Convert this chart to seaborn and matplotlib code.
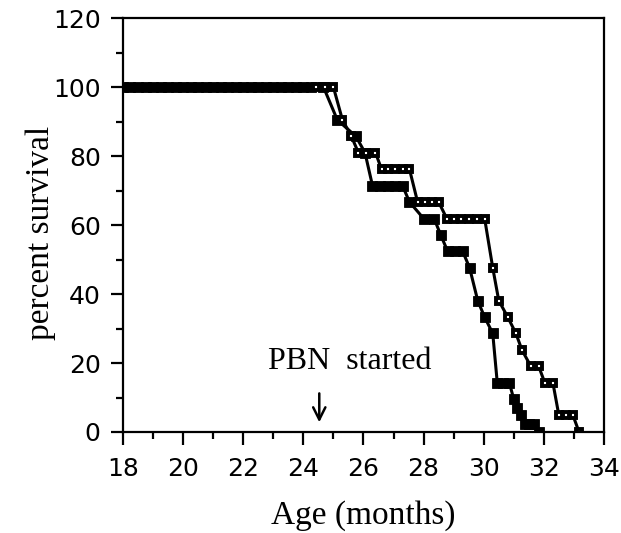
import matplotlib
matplotlib.use("Agg")
import matplotlib.pyplot as plt
import seaborn as sns
from matplotlib.ticker import MultipleLocator

# filled squares
filled_age = [
    18.0, 18.25, 18.5, 18.75, 19.0, 19.25, 19.5, 19.75, 20.0, 20.25, 20.5, 20.75, 21.0,
    21.25, 21.5, 21.75, 22.0, 22.25, 22.5, 22.75, 23.0, 23.25, 23.5, 23.75, 24.0, 24.25,
    24.67, 25.13, 25.75, 26.05, 26.3, 26.55, 26.8, 27.05, 27.3, 27.53, 28.0, 28.35, 28.57,
    28.8, 29.05, 29.3, 29.53, 29.8, 30.03, 30.3, 30.45, 30.65, 30.85, 31.0, 31.1, 31.23,
    31.37, 31.52, 31.67, 31.85,
]
filled_pct = [
    100, 100, 100, 100, 100, 100, 100, 100, 100, 100, 100, 100, 100,
    100, 100, 100, 100, 100, 100, 100, 100, 100, 100, 100, 100, 100,
    100, 90.5, 85.7, 81.0, 71.4, 71.4, 71.4, 71.4, 71.4, 66.7, 61.9, 61.9, 57.1,
    52.4, 52.4, 52.4, 47.6, 38.1, 33.3, 28.6, 14.3, 14.3, 14.3, 9.5, 7.1, 4.8,
    2.4, 2.4, 2.4, 0,
]

# open squares
open_age = [
    18.0, 24.43, 24.73, 25.0, 25.3, 25.6, 25.83, 26.1, 26.4, 26.6, 26.83, 27.05, 27.3,
    27.53, 27.8, 28.03, 28.27, 28.5, 28.77, 29.0, 29.23, 29.5, 29.77, 30.03, 30.3, 30.5,
    30.8, 31.07, 31.27, 31.57, 31.83, 32.03, 32.3, 32.5, 32.73, 32.97, 33.17,
]
open_pct = [
    100, 100, 100, 100, 90.5, 85.7, 81.0, 81.0, 81.0, 76.2, 76.2, 76.2, 76.2,
    76.2, 66.7, 66.7, 66.7, 66.7, 61.9, 61.9, 61.9, 61.9, 61.9, 61.9, 47.6, 38.1,
    33.3, 28.6, 23.8, 19.0, 19.0, 14.3, 14.3, 4.8, 4.8, 4.8, 0,
]

X_TICKS = [18, 20, 22, 24, 26, 28, 30, 32, 34]
Y_TICKS = [0, 20, 40, 60, 80, 100, 120]

sns.set_theme(style="ticks")
plt.rcParams["font.family"] = ["DejaVu Sans"]
plt.rcParams["text.color"] = "black"
plt.rcParams["axes.labelcolor"] = "black"
plt.rcParams["xtick.color"] = "black"
plt.rcParams["ytick.color"] = "black"

fig = plt.figure(figsize=(6.21, 5.33), dpi=100)
ax = fig.add_axes([0.198, 0.1895, 0.7746, 0.7765])

sns.lineplot(
    x=filled_age, y=filled_pct, ax=ax, estimator=None, sort=False,
    color="black", linewidth=2.2, marker="s", markersize=7,
    markerfacecolor="black", markeredgecolor="black", markeredgewidth=0.6,
)
sns.lineplot(
    x=open_age, y=open_pct, ax=ax, estimator=None, sort=False,
    color="black", linewidth=2.2, marker="s", markersize=4.6,
    markerfacecolor="white", markeredgecolor="black", markeredgewidth=2.8,
    markevery=list(range(1, len(open_age))),
)

ax.set_xlim(18, 34)
ax.set_ylim(0, 120)
ax.set_xticks(X_TICKS)
ax.set_yticks(Y_TICKS)
ax.xaxis.set_minor_locator(MultipleLocator(1))
ax.yaxis.set_minor_locator(MultipleLocator(10))
ax.tick_params(which="major", direction="out", length=9, width=1.6, labelsize=18, pad=7)
ax.tick_params(axis="x", which="major", pad=9)
ax.tick_params(which="minor", direction="out", length=5, width=1.6)
for side in ["top", "right", "bottom", "left"]:
    ax.spines[side].set_visible(True)
    ax.spines[side].set_linewidth(1.6)
    ax.spines[side].set_color("black")

serif = ["Liberation Serif", "DejaVu Serif"]
ax.set_xlabel("Age (months)", family=serif, fontsize=24, labelpad=14)
ax.set_ylabel("percent survival", family=serif, fontsize=24)
ax.yaxis.set_label_coords(-0.14, 0.48)

ax.text(25.55, 20.5, "PBN  started", family=serif, fontsize=23, ha="center", va="center")
ax.annotate(
    "", xy=(24.53, 2.0), xytext=(24.53, 12.0),
    arrowprops=dict(arrowstyle="->", lw=1.8, color="black", mutation_scale=22),
)

fig.savefig("out.png", dpi=100)
